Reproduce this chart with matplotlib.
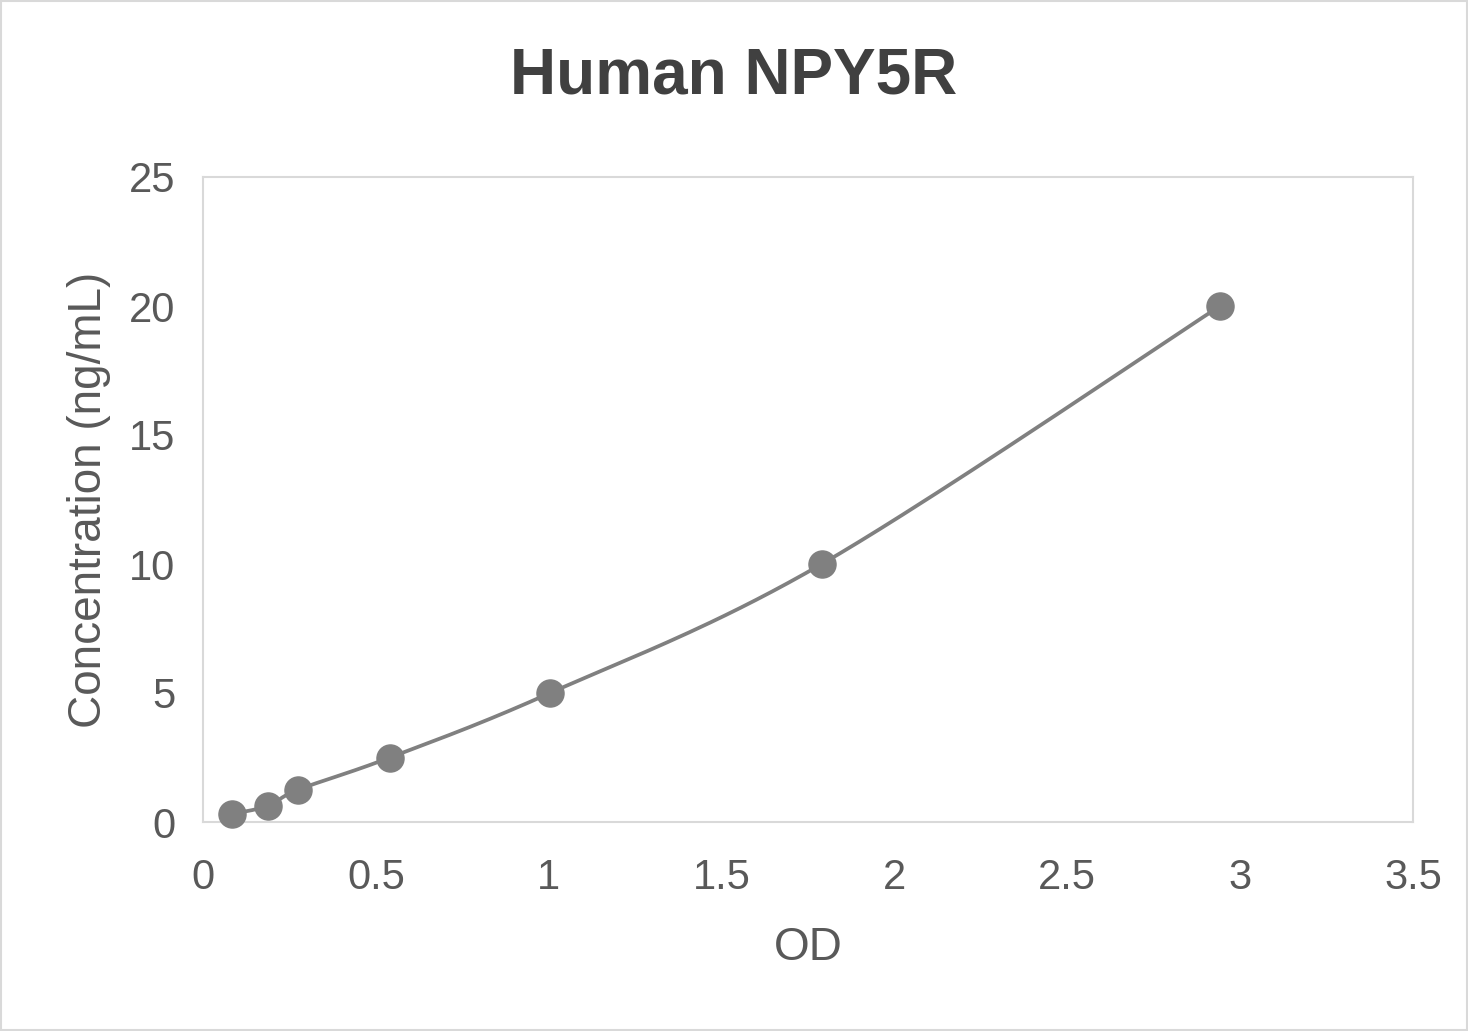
import numpy as np
import matplotlib
matplotlib.use("Agg")
import matplotlib.pyplot as plt

# standard curve values
od = [0.084, 0.188, 0.275, 0.541, 1.004, 1.79, 2.942]
conc = [0.3125, 0.625, 1.25, 2.5, 5, 10, 20]

x_ticks = [0, 0.5, 1, 1.5, 2, 2.5, 3, 3.5]
x_tick_labels = ["0", "0.5", "1", "1.5", "2", "2.5", "3", "3.5"]
y_ticks = [0, 5, 10, 15, 20, 25]

plt.rcParams['font.family'] = ['Liberation Sans', 'DejaVu Sans']


def smooth(xs, ys, n=40):
    """Catmull-Rom curve through the points, like Excel's smoothed line."""
    p = np.column_stack([xs, ys])
    p = np.vstack([p[0], p, p[-1]])
    out = []
    for i in range(1, len(p) - 2):
        p0, p1, p2, p3 = p[i - 1], p[i], p[i + 1], p[i + 2]
        t = np.linspace(0, 1, n)[:, None]
        seg = 0.5 * ((2 * p1) + (-p0 + p2) * t
                     + (2 * p0 - 5 * p1 + 4 * p2 - p3) * t ** 2
                     + (-p0 + 3 * p1 - 3 * p2 + p3) * t ** 3)
        out.append(seg)
    c = np.vstack(out)
    return c[:, 0], c[:, 1]


fig = plt.figure(figsize=(14.68, 10.31), dpi=100)
ax = fig.add_axes([203 / 1468, 1 - 822 / 1031, (1413 - 203) / 1468, (822 - 177) / 1031])

line_col = "#808080"
text_col = "#595959"

sx, sy = smooth(od, conc)
ax.plot(sx, sy, color=line_col, linewidth=2.7, zorder=2, clip_on=False)
ax.plot(od, conc, "o", color=line_col, markersize=19.5, zorder=3, clip_on=False)

ax.set_xlim(0, 3.5)
ax.set_ylim(0, 25)
ax.set_xticks(x_ticks)
ax.set_xticklabels(x_tick_labels)
ax.set_yticks(y_ticks)
ax.tick_params(length=0, labelsize=30, colors=text_col)
ax.tick_params(axis="x", pad=26)
ax.tick_params(axis="y", pad=20)

for s in ax.spines.values():
    s.set_color("#d9d9d9")
    s.set_linewidth(1.5)

ax.set_xlabel("OD", fontsize=33, color=text_col, labelpad=20)
ax.set_ylabel("Concentration (ng/mL)", fontsize=33, color=text_col, labelpad=13)
fig.text(734 / 1468, 1 - 76 / 1031, "Human NPY5R", fontsize=46, fontweight="bold",
         color="#404040", ha="center", va="center")

# outer chart border
fig.patches.append(plt.Rectangle((0.001, 0.001), 0.998, 0.998, transform=fig.transFigure,
                                 fill=False, edgecolor="#d9d9d9", linewidth=1.5))

fig.savefig("out.png", dpi=100)
